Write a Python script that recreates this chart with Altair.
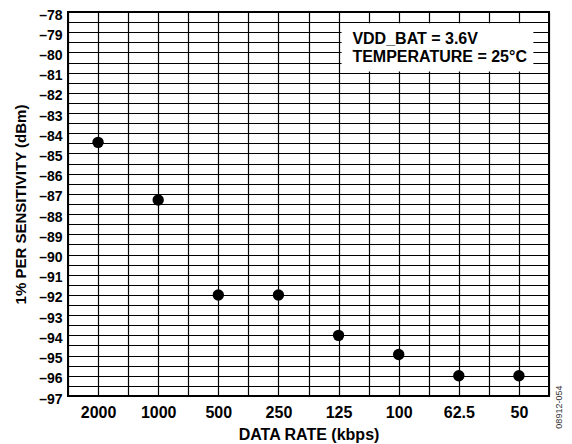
import altair as alt
import pandas as pd

# Data
rates = ["2000", "1000", "500", "250", "125", "100", "62.5", "50"]
sensitivity = [-84.45, -87.3, -92.0, -92.0, -94.0, -94.95, -96.0, -96.0]

# Annotation box (data coordinates) and texts
note_lines = ["VDD_BAT = 3.6V", "TEMPERATURE = 25°C"]
note_y = [-79.32, -80.25]
note_x = 4.23
box_x = [4.05, 7.24]
box_y = [-78.56, -80.94]
fig_id = "08912-054"

FONT = "Liberation Sans"

df = pd.DataFrame({"idx": list(range(len(rates))), "rate": rates, "val": sensitivity})

y_vals = [-97 + 0.5 * i for i in range(39)]
x_vals = [-0.5 + 0.5 * i for i in range(17)]
label_arr = "[" + ",".join("'" + r + "'" for r in rates) + "]"

x_scale = alt.Scale(domain=[-0.5, 7.5], nice=False, zero=False)
y_scale = alt.Scale(domain=[-97, -78], nice=False, zero=False)

x_axis = alt.Axis(
    values=x_vals,
    labelExpr=f"datum.value % 1 == 0 ? {label_arr}[datum.value] : ''",
    title="DATA RATE (kbps)",
    grid=True, ticks=False, domain=False,
    labelOverlap=False, labelFlush=False, labelBound=False,
    labelPadding=8, titlePadding=6, labelFontSize=16, titleFontSize=16,
)
y_axis = alt.Axis(
    values=y_vals,
    labelExpr="datum.value % 1 == 0 ? '\u2013' + format(abs(datum.value), 'd') : ''",
    title="1% PER SENSITIVITY (dBm)",
    grid=True, ticks=False, domain=False,
    labelOverlap=False, labelFlush=False, labelBound=False,
    labelPadding=6, titlePadding=10, labelOffset=3, labelFontSize=14,
)

X = lambda f: alt.X(f, scale=x_scale, axis=x_axis)
Y = lambda f: alt.Y(f, scale=y_scale, axis=y_axis)

points = alt.Chart(df).mark_circle(size=130, color="black", opacity=1).encode(
    x=X("idx:Q"), y=Y("val:Q"),
)

box_df = pd.DataFrame({"x": [box_x[0]], "x2": [box_x[1]], "y": [box_y[0]], "y2": [box_y[1]]})
box = alt.Chart(box_df).mark_rect(color="white", opacity=1).encode(
    x=X("x:Q"), x2="x2:Q", y=Y("y:Q"), y2="y2:Q",
)

note_df = pd.DataFrame({"t": note_lines, "x": [note_x] * 2, "y": note_y})
notes = alt.Chart(note_df).mark_text(
    align="left", baseline="middle", font=FONT, fontWeight="bold", fontSize=16, color="black"
).encode(
    x=X("x:Q"), y=Y("y:Q"), text="t:N"
)

id_df = pd.DataFrame({"t": [fig_id], "x": [7.66], "y": [-97.55]})
idtext = alt.Chart(id_df).mark_text(
    angle=270, align="center", baseline="middle", font=FONT, fontSize=9, color="#333333"
).encode(
    x=X("x:Q"), y=Y("y:Q"), text="t:N"
)

chart = alt.layer(box, notes, points, idtext).properties(
    width=481, height=384,
    autosize=alt.AutoSizeParams(type="none"),
    padding={"left": 60, "top": 4, "right": 15, "bottom": 48},
    background="white",
).configure_view(
    stroke="black", strokeWidth=2
).configure_axis(
    labelFont=FONT, labelFontWeight="bold", labelFontSize=15, labelColor="black",
    titleFont=FONT, titleFontWeight="bold", titleFontSize=15, titleColor="black",
    gridColor="black", gridWidth=1.2, gridOpacity=1,
)

chart.save("out.html", embed_options={"renderer": "svg", "actions": False})
